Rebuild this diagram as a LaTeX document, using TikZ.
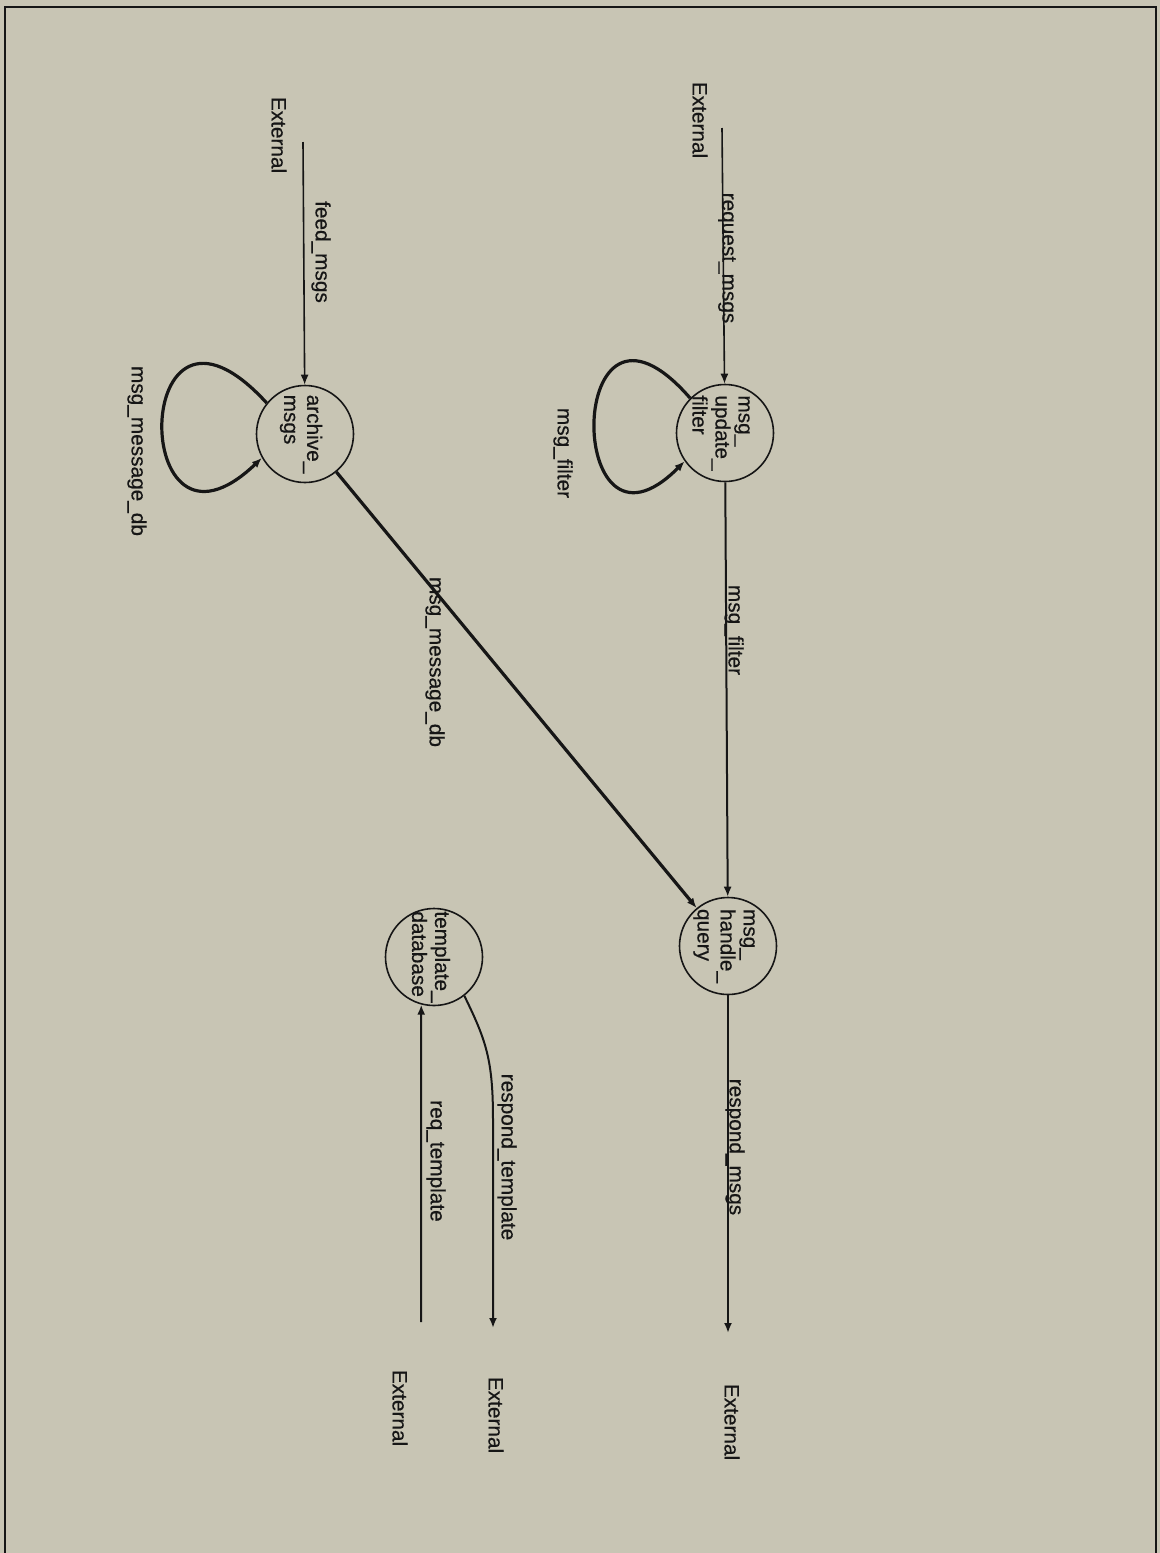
\documentclass[tikz,border=0pt]{standalone}
\usepackage{fontspec}
\setmainfont{Liberation Sans}[FakeBold=0.5]
\usepackage{tikz}
\usetikzlibrary{arrows.meta}
\definecolor{paper}{HTML}{C8C5B4}
\definecolor{ink}{HTML}{161616}
\newcommand{\dfdfont}{\fontsize{10.4}{11.5}\selectfont}
\tikzset{
  bubble/.style={draw=ink, circle, line width=0.8pt, minimum size=48.5pt, inner sep=0pt},
  intext/.style={rotate=-90, align=left, inner sep=0pt, text=ink, font=\dfdfont},
  flow/.style={draw=ink, line width=1pt, -{Latex[length=5pt,width=4pt]}},
  heavy/.style={flow, line width=1.6pt},
  lab/.style={rotate=-90, inner sep=0pt, text=ink, font=\dfdfont},
  frame/.style={draw=ink, line width=1.1pt}
}

\begin{document}
\begin{tikzpicture}[x=0.5pt,y=-0.5pt]
  \fill[paper] (0,0) rectangle (1160,1553);
  \useasboundingbox (0,0) rectangle (1160,1553);
  \draw[frame] (5,1553) -- (5,7) -- (1156,7) -- (1156,1553);

  % processes
  \node[bubble] (U) at (725,433) {};
  \node[bubble] (A) at (305,434) {};
  \node[bubble] (H) at (728,946) {};
  \node[bubble] (T) at (434,957) {};
  \node[xshift=-2pt,intext] (Ut) at (U) {msg\_\\update\_\\filter};
  \node[xshift=-2pt,intext] (At) at (A) {archive\_\\msgs};
  \node[xshift=-2pt,intext] (Ht) at (H) {msg\_\\handle\_\\query};
  \node[xshift=-1.5pt,intext] (Tt) at (T) {template\_\\database};

  % external ends
  \coordinate (eU) at (722,128);
  \coordinate (eA) at (303,142);
  \coordinate (eH) at (728,1333);
  \coordinate (eTo) at (493,1328);
  \coordinate (eTi) at (421,1322);
  \coordinate (bend) at (493,1120);

  \node[lab] (xU) at (700,120) {External};
  \node[lab] (xA) at (279,135) {External};
  \node[lab] (xH) at (732,1422) {External};
  \node[lab] (xTo) at (496,1415) {External};
  \node[lab] (xTi) at (400,1408) {External};

  % flows
  \draw[flow,line width=0.8pt] (eU) -- (U);
  \draw[flow,line width=0.8pt] (eA) -- (A);
  \draw[heavy] (U.135) .. controls +(-126,-145) and +(-121,122) .. (U.215);
  \draw[heavy] (A.141) .. controls +(-137,-150) and +(-134,128) .. (A.209);
  \draw[flow] (U) -- (H);
  \draw[heavy] (A) -- (H);
  \draw[flow] (H) -- (eH);
  \draw[flow] (T.-52) .. controls +(22,45) and +(0,-60) .. (bend) -- (eTo);
  \draw[flow] (eTi) -- (T.255);

  \node[lab] (lReq) at (727,258) {request\_msgs};
  \node[lab] (lFeed) at (321,252) {feed\_msgs};
  \node[lab] (lLoopU) at (563,453) {msg\_filter};
  \node[lab] (lLoopA) at (137,451) {msg\_message\_db};
  \node[lab] (lUH) at (734,630) {msg\_filter};
  \node[lab] (lAH) at (435,662) {msg\_message\_db};
  \node[lab] (lResp) at (735,1147) {respond\_msgs};
  \node[lab] (lRespT) at (507,1157) {respond\_template};
  \node[lab] (lReqT) at (436,1161) {req\_template};
\end{tikzpicture}
\end{document}
